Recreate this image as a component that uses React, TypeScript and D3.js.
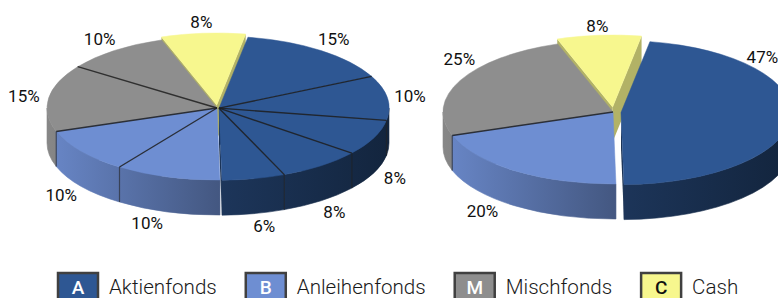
import { useEffect, useRef } from 'react';
import * as d3 from 'd3';

const categoryKeys = ['A', 'B', 'M', 'C'];
const categoryNames = ['Aktienfonds', 'Anleihenfonds', 'Mischfonds', 'Cash'];
const categoryColors = ['#2e5793', '#6e8ed2', '#8e8e8e', '#f7f78e'];
const keyTextColors = ['#ffffff', '#ffffff', '#ffffff', '#111111'];

// left pie: single funds
const detailValues = [15, 10, 8, 8, 6, 10, 10, 15, 10, 8];
const detailGroups = ['A', 'A', 'A', 'A', 'A', 'B', 'B', 'M', 'M', 'C'];

// right pie: totals per fund type
const totalValues = [47, 20, 25, 8];
const totalGroups = ['A', 'B', 'M', 'C'];

const WIDTH = 778;
const HEIGHT = 298;
const START_ANGLE = (9.8 * Math.PI) / 180;
const RX = 170;
const RY = 72;
const DEPTH = 35;

const pies = [
  { values: detailValues, groups: detailGroups, cx: 217, cy: 108, explode: { A: 2, C: 3 }, labelAngles: { 4: 166, 5: 201 } },
  { values: totalValues, groups: totalGroups, cx: 613, cy: 112, explode: { A: 8, C: 5 }, labelAngles: { 0: 50, 1: 222, 2: 308 } },
];

const shade = (c: string, k: number) => {
  const rgb = d3.rgb(c);
  return d3.rgb(rgb.r * k, rgb.g * k, rgb.b * k).formatHex();
};

const App = () => {
  const svgRef = useRef<SVGSVGElement>(null);

  useEffect(() => {
    const svg = d3.select(svgRef.current);
    svg.selectAll('*').remove();
    const defs = svg.append('defs');

    pies.forEach((p, pi) => {
      const arcs = d3
        .pie<number>()
        .sort(null)
        .startAngle(START_ANGLE)
        .endAngle(START_ANGLE + 2 * Math.PI)(p.values);

      // explosion direction per category = middle of the category's arc range
      const groupMid: Record<string, number> = {};
      d3.group(arcs.map((a, i) => ({ a, g: p.groups[i] })), (d) => d.g).forEach((items, g) => {
        groupMid[g] = ((d3.min(items, (d) => d.a.startAngle) as number) + (d3.max(items, (d) => d.a.endAngle) as number)) / 2;
      });

      categoryKeys.forEach((k, ci) => {
        const grad = defs
          .append('linearGradient')
          .attr('id', `side-${pi}-${k}`)
          .attr('gradientUnits', 'userSpaceOnUse')
          .attr('x1', p.cx - RX)
          .attr('x2', p.cx + RX)
          .attr('y1', 0)
          .attr('y2', 0);
        [[0, 0.95], [0.5, 0.62], [1, 0.42]].forEach(([o, f]) => {
          grad.append('stop').attr('offset', o).attr('stop-color', shade(categoryColors[ci], f));
        });
      });

      const slices = arcs.map((a, i) => {
        const g = p.groups[i];
        const e = (p.explode as any)[g] || 0;
        const m = groupMid[g];
        return {
          i,
          a0: a.startAngle,
          a1: a.endAngle,
          mid: (a.startAngle + a.endAngle) / 2,
          value: a.data,
          g,
          color: categoryColors[categoryKeys.indexOf(g)],
          dx: e * Math.sin(m),
          dy: -e * Math.cos(m),
        };
      });

      const rim = (s: any, ang: number, down = 0) => [
        p.cx + s.dx + RX * Math.sin(ang),
        p.cy + s.dy - RY * Math.cos(ang) + down,
      ];

      const layer = svg.append('g');

      // back to front
      const order = [...slices].sort((a, b) => Math.cos(b.mid) - Math.cos(a.mid));
      order.forEach((s) => {
        const ax = p.cx + s.dx;
        const ay = p.cy + s.dy;
        const wallColor = shade(s.color, 0.55);

        // radial walls facing the viewer
        const radial = (ang: number) => {
          const [x, y] = rim(s, ang);
          layer
            .append('path')
            .attr('d', `M${ax},${ay}L${x},${y}L${x},${y + DEPTH}L${ax},${ay + DEPTH}Z`)
            .attr('fill', s.g === 'C' ? shade(s.color, 0.72) : wallColor);
        };
        if (Math.sin(s.a0) < -0.01) radial(s.a0);
        if (Math.sin(s.a1) > 0.01) radial(s.a1);

        // outer wall on front half
        const b0 = Math.max(s.a0, Math.PI / 2);
        const b1 = Math.min(s.a1, (3 * Math.PI) / 2);
        if (b1 > b0) {
          const [x0, y0] = rim(s, b0);
          const [x1, y1] = rim(s, b1);
          layer
            .append('path')
            .attr(
              'd',
              `M${x0},${y0}A${RX},${RY} 0 0 1 ${x1},${y1}L${x1},${y1 + DEPTH}A${RX},${RY} 0 0 0 ${x0},${y0 + DEPTH}Z`
            )
            .attr('fill', `url(#side-${pi}-${s.g})`)
            .attr('stroke', `url(#side-${pi}-${s.g})`)
            .attr('stroke-width', 0.6);
        }

        // top face
        const [x0, y0] = rim(s, s.a0);
        const [x1, y1] = rim(s, s.a1);
        const large = s.a1 - s.a0 > Math.PI ? 1 : 0;
        layer
          .append('path')
          .attr('d', `M${ax},${ay}L${x0},${y0}A${RX},${RY} 0 ${large} 1 ${x1},${y1}Z`)
          .attr('fill', s.color)
          .attr('stroke', s.color)
          .attr('stroke-width', 0.5);
      });

      // separator lines between slices that sit together
      slices.forEach((s, i) => {
        const next = slices[(i + 1) % slices.length];
        if (Math.abs(s.dx - next.dx) > 0.01 || Math.abs(s.dy - next.dy) > 0.01) return;
        const [x, y] = rim(s, s.a1);
        layer
          .append('line')
          .attr('x1', p.cx + s.dx)
          .attr('y1', p.cy + s.dy)
          .attr('x2', x)
          .attr('y2', y)
          .attr('stroke', '#1f1f1f')
          .attr('stroke-opacity', 0.85)
          .attr('stroke-width', 1.4);
        if (Math.cos(s.a1) < 0) {
          layer
            .append('line')
            .attr('x1', x)
            .attr('y1', y)
            .attr('x2', x)
            .attr('y2', y + DEPTH)
            .attr('stroke', '#1f1f1f')
            .attr('stroke-opacity', 0.6)
            .attr('stroke-width', 1.2);
        }
      });

      // percentage labels
      slices.forEach((s) => {
        const override = (p.labelAngles as any)[s.i];
        const ang = override !== undefined ? (override * Math.PI) / 180 : s.mid;
        const c = Math.cos(ang);
        svg
          .append('text')
          .attr('x', p.cx + (RX + 25) * Math.sin(ang))
          .attr('y', p.cy - (RY + 14) * c + (c < 0 ? DEPTH : 0))
          .attr('text-anchor', 'middle')
          .attr('dominant-baseline', 'central')
          .attr('font-family', 'Roboto, sans-serif')
          .attr('font-weight', 400)
          .attr('font-size', '17px')
          .attr('fill', '#111')
          .text(`${s.value}%`);
      });
    });

    // legend
    const legend = svg.append('g');
    let lx = 58;
    categoryKeys.forEach((k, i) => {
      legend
        .append('rect')
        .attr('x', lx)
        .attr('y', 273)
        .attr('width', 40)
        .attr('height', 30)
        .attr('fill', categoryColors[i])
        .attr('stroke', '#404040')
        .attr('stroke-width', 2.5);
      legend
        .append('text')
        .attr('x', lx + 20)
        .attr('y', 294)
        .attr('text-anchor', 'middle')
        .attr('font-family', 'Roboto, sans-serif')
        .attr('font-weight', 500)
        .attr('font-size', '19px')
        .attr('fill', keyTextColors[i])
        .text(k);
      const label = legend
        .append('text')
        .attr('x', lx + 51)
        .attr('y', 294)
        .attr('font-family', 'Roboto, sans-serif')
        .attr('font-weight', 300)
        .attr('font-size', '20.6px')
        .attr('fill', '#1a1a1a')
        .text(categoryNames[i]);
      const w = (label.node() as SVGTextElement).getComputedTextLength();
      lx += 51 + w + 29;
    });
  }, []);

  return (
    <svg
      ref={svgRef}
      width={WIDTH}
      height={HEIGHT}
      style={{ position: 'absolute', left: 0, top: 0, background: '#fff' }}
    />
  );
};

export default App;
